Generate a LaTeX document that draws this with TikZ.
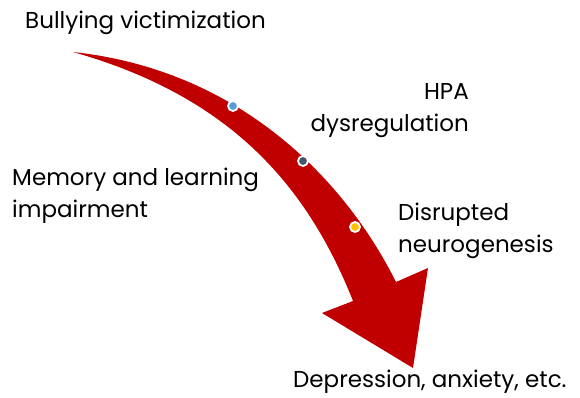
\documentclass[tikz,border=0pt]{standalone}
\usepackage{fontspec}
\setmainfont{Poppins}
\definecolor{arrowred}{HTML}{C00000}
\definecolor{dotblue}{HTML}{5B9BD5}
\definecolor{dotslate}{HTML}{44546A}
\definecolor{dotgold}{HTML}{FFC000}
\begin{document}
\begin{tikzpicture}[x=1pt,y=-1pt,
  lbl/.style={inner sep=0pt,font=\fontsize{23}{27}\selectfont},
  stepdot/.style={circle,draw=white,line width=1.8pt,inner sep=0pt,minimum size=10pt}]
\useasboundingbox (0,0) rectangle (580,398);
% curved arrow body with its head
\fill[arrowred]
  (73,52) .. controls (240,70) and (345,180) .. (396,282)
  -- (428,268) -- (413,368) -- (322,313) -- (353,301)
  .. controls (305,180) and (225,95) .. (73,52)
  -- cycle;
% markers on the arrow
\node[stepdot,fill=dotblue] (d1) at (233,106) {};
\node[stepdot,fill=dotslate] (d2) at (303,161) {};
\node[stepdot,fill=dotgold] (d3) at (355,227) {};
% labels
\node[lbl,anchor=base west] (t1) at (25,29) {Bullying victimization};
\node[lbl,anchor=base east] (t2a) at (469,100) {HPA};
\node[lbl,anchor=base east] (t2b) at (469,132) {dysregulation};
\node[lbl,anchor=base west] (t3a) at (12,185) {Memory and learning};
\node[lbl,anchor=base west] (t3b) at (12,217) {impairment};
\node[lbl,anchor=base west] (t4a) at (398,220) {Disrupted};
\node[lbl,anchor=base west] (t4b) at (398,252) {neurogenesis};
\node[lbl,anchor=base west] (t5) at (293,387) {Depression, anxiety, etc.};
\end{tikzpicture}
\end{document}
